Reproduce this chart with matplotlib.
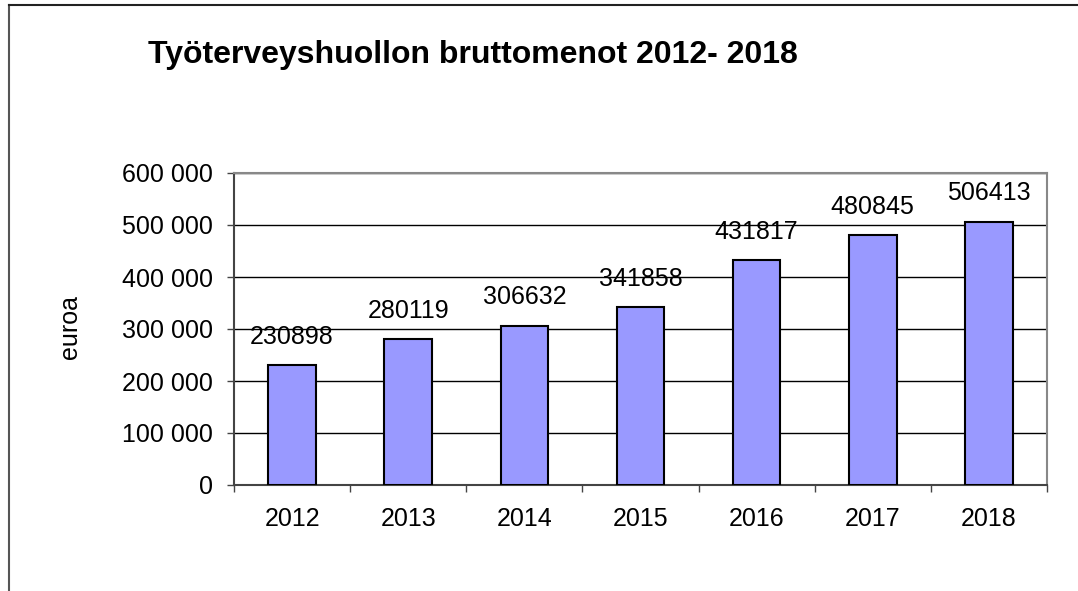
import matplotlib.pyplot as plt
from matplotlib.ticker import FuncFormatter

years = ["2012", "2013", "2014", "2015", "2016", "2017", "2018"]
costs = [230898, 280119, 306632, 341858, 431817, 480845, 506413]

plt.rcParams["font.family"] = ["Liberation Sans", "DejaVu Sans"]

fig = plt.figure(figsize=(10.78, 5.91), dpi=100)
ax = fig.add_axes([234 / 1078, 1 - 485 / 591, (1047 - 234) / 1078, (485 - 173) / 591])

x = range(len(years))
ax.bar(x, costs, width=0.41, color="#9999FF", edgecolor="black", linewidth=1.5, zorder=3)
# value labels above bars
for i, v in enumerate(costs):
    ax.text(i, v + 41000, str(v), ha="center", va="baseline", fontsize=18)

ax.set_xlim(-0.5, len(years) - 0.5)
ax.set_ylim(0, 600000)
ax.set_yticks(range(0, 600001, 100000))
ax.yaxis.set_major_formatter(FuncFormatter(lambda v, p: f"{int(v):,}".replace(",", " ")))
ax.set_xticks(list(x))
ax.set_xticklabels(years)
ax.set_xticks([i - 0.5 for i in range(len(years) + 1)], minor=True)
ax.tick_params(axis="x", which="major", length=0, pad=16, labelsize=18)
ax.tick_params(axis="x", which="minor", length=5, width=1, color="#444444", direction="out")
ax.tick_params(axis="y", length=5, width=1, color="#444444", direction="out", labelsize=18, pad=10)
ax.grid(axis="y", color="black", linewidth=1, zorder=0)

for side in ["top", "right"]:
    ax.spines[side].set_color("#888888")
    ax.spines[side].set_linewidth(1.5)
for side in ["left", "bottom"]:
    ax.spines[side].set_color("#444444")
    ax.spines[side].set_linewidth(1.5)

fig.text(70 / 1078, 1 - 327 / 591, "euroa", rotation=90, ha="center", va="center", fontsize=18)
fig.text(148 / 1078, 1 - 55 / 591, "Työterveyshuollon bruttomenot 2012- 2018",
         ha="left", va="center", fontsize=23, fontweight="bold")

# outer frame
fig.add_artist(plt.Line2D([8.5 / 1078, 8.5 / 1078], [0, 1 - 5 / 591], color="#555555", linewidth=1.5))
fig.add_artist(plt.Line2D([8.5 / 1078, 1], [1 - 5 / 591, 1 - 5 / 591], color="#222222", linewidth=1.5))

fig.savefig("out.png", dpi=100)
